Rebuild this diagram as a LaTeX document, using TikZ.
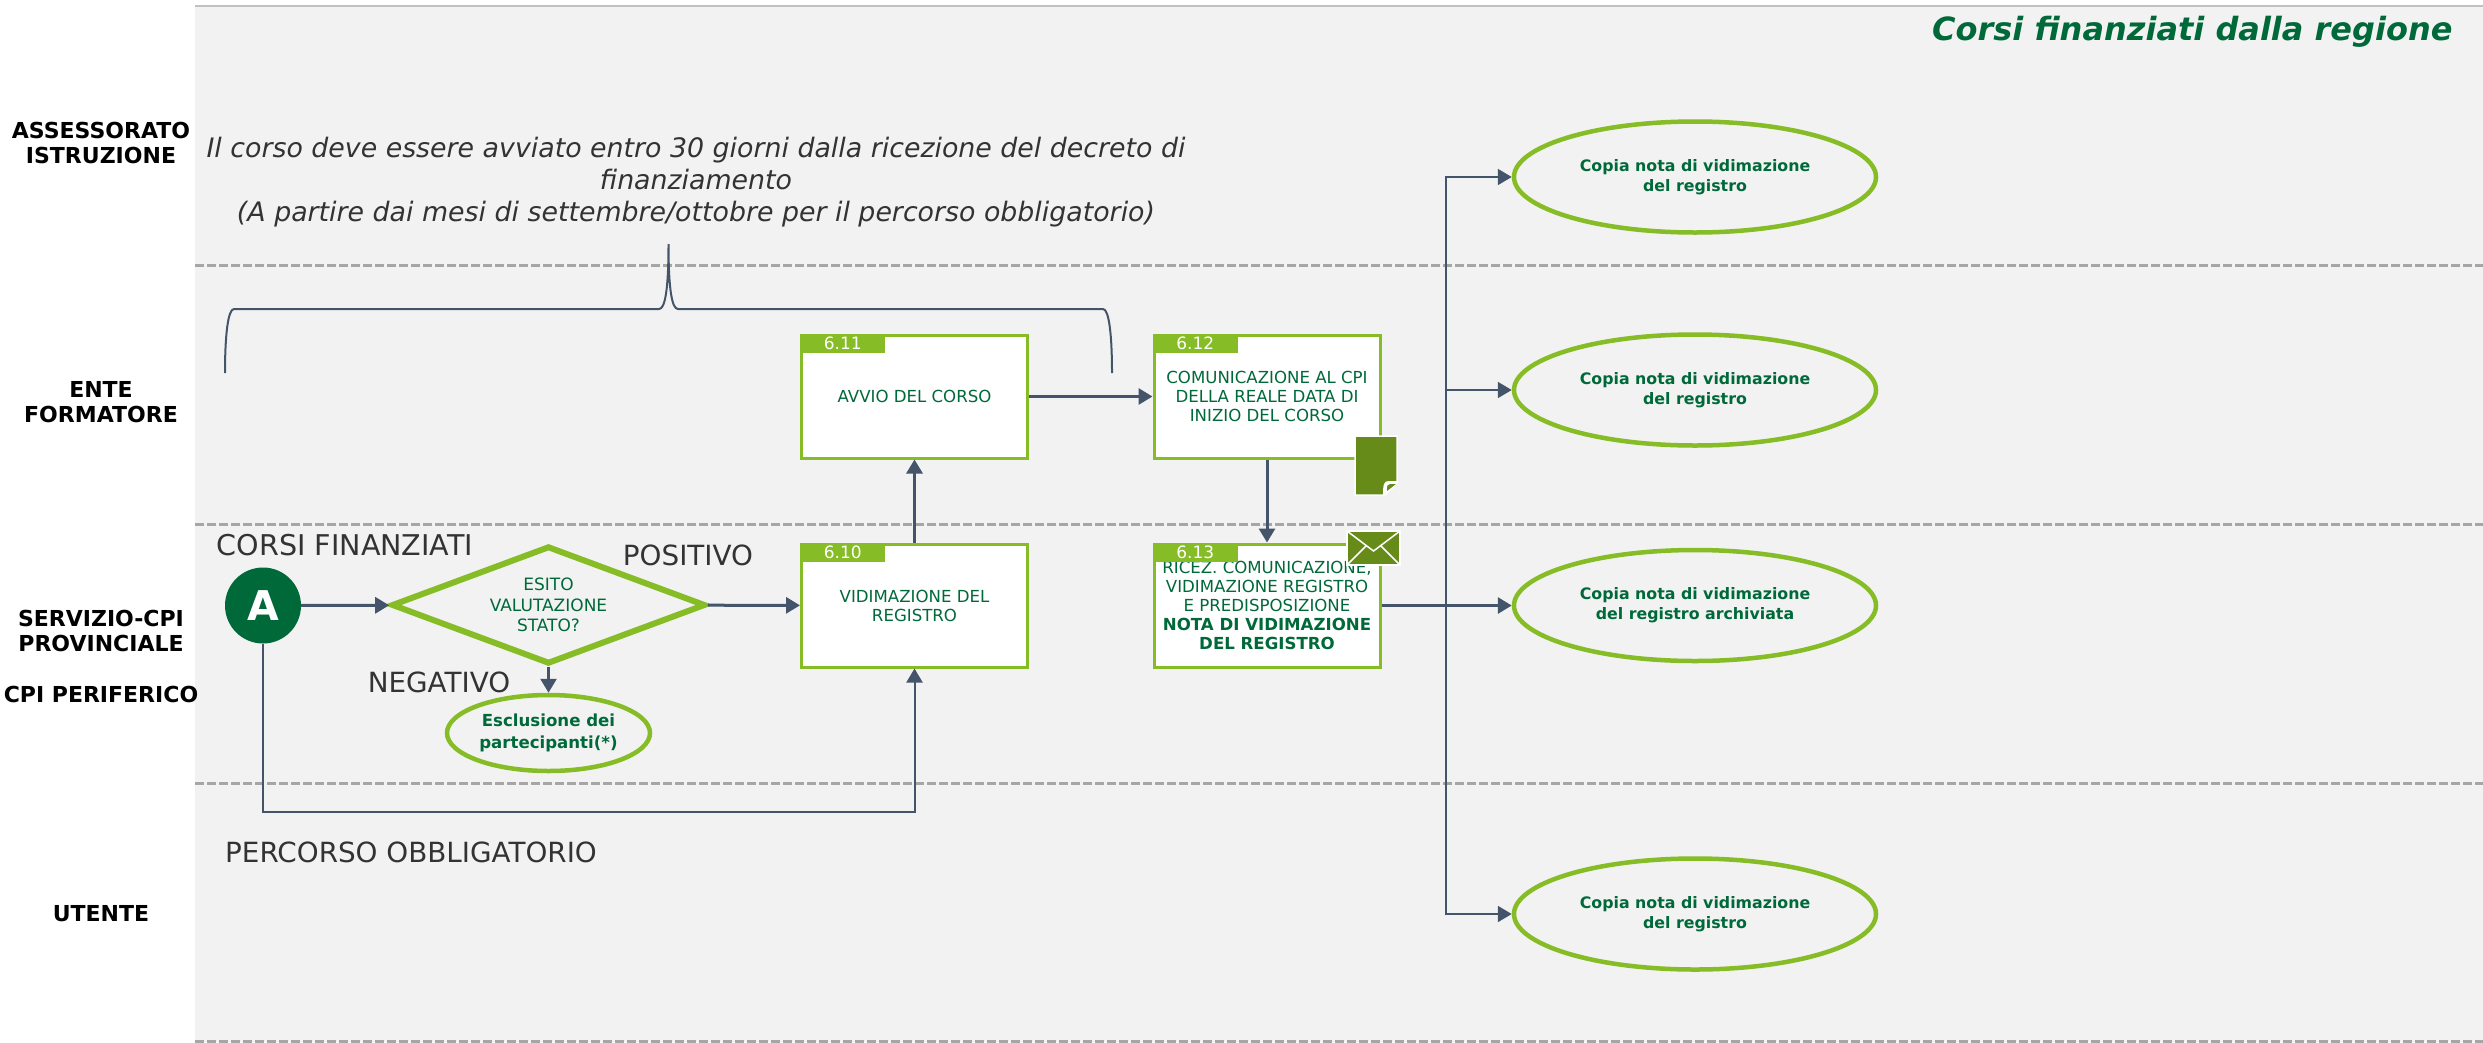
\documentclass[tikz,border=0pt]{standalone}
\usepackage{fontspec}
\setmainfont{DejaVu Sans}
\usetikzlibrary{arrows.meta,shapes.geometric}

\definecolor{fondo}{HTML}{F2F2F2}
\definecolor{verde}{HTML}{86BC25}
\definecolor{verdescuro}{HTML}{00693A}
\definecolor{verdeicona}{HTML}{668B19}
\definecolor{linea}{HTML}{44546A}
\definecolor{grigio}{HTML}{A6A6A6}
\definecolor{testo}{HTML}{333333}

\tikzset{
    freccia/.style={-{Triangle[length=14pt,width=16pt]}, draw=linea, line width=3pt},
    filo/.style={draw=linea, line width=2pt},
    corsia/.style={draw=grigio, line width=3pt, dash pattern=on 9pt off 3pt},
    attore/.style={font=\fontsize{22}{25}\selectfont\bfseries, align=center, text=black},
    etichetta/.style={font=\fontsize{27.8}{32}\selectfont, text=testo, align=center},
    scatola/.style={rectangle, draw=verde, fill=white, line width=3pt,
        minimum width=226pt, minimum height=123pt, inner sep=0pt, align=center,
        text=verdescuro, font=\fontsize{16.6}{19}\selectfont},
    linguetta/.style={rectangle, fill=verde, minimum width=85pt, minimum height=19pt,
        inner sep=0pt, text=white, font=\fontsize{17}{19}\selectfont},
    documento/.style={ellipse, draw=verde, fill=fondo, line width=4.5pt,
        minimum width=362pt, minimum height=111pt, inner sep=0pt, align=center,
        text=verdescuro, font=\fontsize{15.8}{20}\selectfont\bfseries},
    icona/.style={fill=verdeicona, draw=white, line width=1.5pt}
}

\begin{document}
\begin{tikzpicture}[x=1pt,y=-1pt]
\useasboundingbox (0,0) rectangle (2483,1042);

% Background
\fill[fondo] (195,6) rectangle (2483,1042);
\draw[draw=grigio!70, line width=2pt] (195,6) -- (2483,6);

% Lanes
\foreach \y in {265,524,783,1041}
{
    \draw[corsia] (195,\y) -- (2483,\y);
}

% Lane names
\node[attore] (Assessorato) at (101,143) {ASSESSORATO\\ISTRUZIONE};
\node[attore] (Ente) at (101,402) {ENTE\\FORMATORE};
\node[attore] (Servizio) at (101,631) {SERVIZIO-CPI\\PROVINCIALE};
\node[attore] (Periferico) at (101,694) {CPI PERIFERICO};
\node[attore] (Utente) at (101,914) {UTENTE};

% Title and notes
\node[anchor=east, text=verdescuro, font=\fontsize{32}{38}\selectfont\bfseries\itshape]
    (Titolo) at (2456,32) {Corsi finanziati dalla regione};
\node[etichetta, font=\fontsize{26.8}{32}\selectfont\itshape] (Nota) at (696,182.5)
    {Il corso deve essere avviato entro 30 giorni dalla ricezione del decreto di\\
    finanziamento\\(A partire dai mesi di settembre/ottobre per il percorso obbligatorio)};
\node[etichetta, font=\fontsize{28.6}{32}\selectfont] (Corsi) at (345,545) {CORSI FINANZIATI};
\node[etichetta] (Positivo) at (688,555) {POSITIVO};
\node[etichetta] (Negativo) at (439,682) {NEGATIVO};
\node[etichetta] (Percorso) at (411,852) {PERCORSO OBBLIGATORIO};

% Brace
\draw[filo] (225,373) .. controls (225,335) and (228,309) .. (234,309)
    -- (659,309) .. controls (665,309) and (668.5,290) .. (668.5,244)
    .. controls (668.5,290) and (672,309) .. (678,309)
    -- (1103,309) .. controls (1109,309) and (1112,335) .. (1112,373);

% Start and decision
\node[circle, fill=verdescuro, minimum size=76pt, inner sep=0pt, text=white,
    font=\fontsize{41}{41}\selectfont\bfseries] (Inizio) at (263,605.5) {A};
\node[diamond, draw=verde, line width=6pt, shape aspect=2.63, inner sep=0pt,
    minimum width=314pt, minimum height=118pt, align=center, text=verdescuro,
    font=\fontsize{17}{20.5}\selectfont] (Esito) at (548.5,605)
    {ESITO\\VALUTAZIONE\\STATO?};
\node[documento, minimum width=203pt, minimum height=76pt,
    font=\fontsize{16.6}{21.5}\selectfont\bfseries] (Esclusione) at (548.5,733)
    {Esclusione dei\\partecipanti(*)};

% Steps
\foreach \i/\x/\y/\txt in {
    10/914.5/605.5/{VIDIMAZIONE DEL\\REGISTRO},
    11/914.5/396.5/{AVVIO DEL CORSO},
    12/1267/396.5/{COMUNICAZIONE AL CPI\\DELLA REALE DATA DI\\INIZIO DEL CORSO},
    13/1267/605.5/{RICEZ. COMUNICAZIONE,\\VIDIMAZIONE REGISTRO\\E PREDISPOSIZIONE\\\textbf{NOTA DI VIDIMAZIONE}\\\textbf{DEL REGISTRO}}}
{
    \node[scatola] (Box-\i) at (\x,\y) {\txt};
    \node[linguetta, anchor=north west] (Tab-\i) at (Box-\i.north west) {6.\i};
}

% Outcomes
\foreach \i/\y/\txt in {
    1/177/{Copia nota di vidimazione\\del registro},
    2/390/{Copia nota di vidimazione\\del registro},
    3/605.5/{Copia nota di vidimazione\\del registro archiviata},
    4/914/{Copia nota di vidimazione\\del registro}}
{
    \node[documento] (Copia-\i) at (1695,\y) {\txt};
}

% Connect steps
\draw[freccia] (Inizio) -- (Esito);
\draw[freccia] (Esito) -- (Box-10);
\draw[freccia, line width=2.5pt] (Esito) -- (Esclusione);
\draw[freccia] (Box-10) -- (Box-11);
\draw[freccia] (Box-11) -- (Box-12);
\draw[freccia] (Box-12) -- (Box-13);
\coordinate (Angolo) at (263,812);
\draw[filo, -{Triangle[length=14pt,width=16pt]}] (Inizio) -- (Angolo) -| (Box-10);

% Connect outcomes
\coordinate (Snodo) at (1446,605.5);
\draw[freccia] (Box-13) -- (Copia-3);
\foreach \i in {1,2,4}
{
    \draw[filo, -{Triangle[length=14pt,width=16pt]}] (Snodo) |- (Copia-\i);
}

% Note icon
\draw[icona] (1355,436) -- (1397,436) -- (1397,482) -- (1384,495) -- (1355,495) -- cycle;
\fill[white] (1397,481) -- (1389,481) .. controls (1384,481) and (1383,484) .. (1383,495) -- (1386,495) -- (1397,484) -- cycle;
\fill[verdeicona] (1396,484) -- (1390,484) .. controls (1387,484) and (1387,486) .. (1387,491) -- cycle;

% Mail icon
\draw[icona] (1347,531) rectangle (1400,565);
\draw[draw=white, line width=1.5pt] (1347,531) -- (1373.5,551) -- (1400,531)
    (1347,565) -- (1366,546) (1400,565) -- (1381,546);

\end{tikzpicture}
\end{document}
